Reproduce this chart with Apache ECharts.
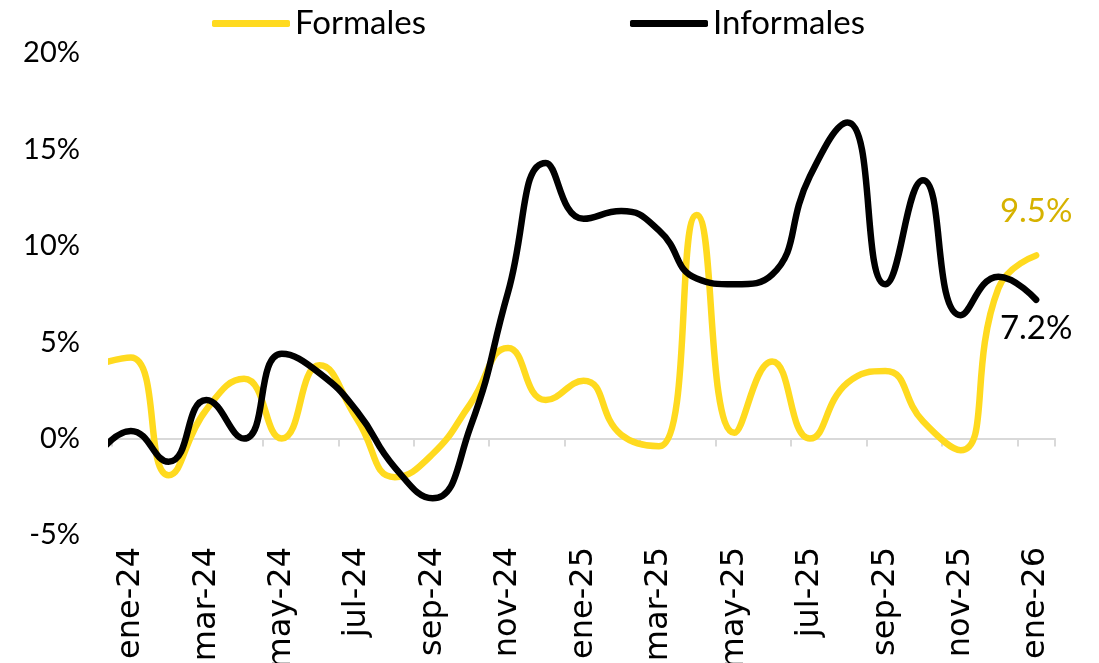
<!DOCTYPE html>
<html>
<head>
<meta charset="utf-8">
<script src="https://cdn.jsdelivr.net/npm/echarts@6/dist/echarts.min.js"></script>
<style>
  html, body { margin: 0; padding: 0; background: #fff; }
  #chart { width: 1099px; height: 663px; }
</style>
</head>
<body>
<div id="chart"></div>
<script>
// meses mostrados en el eje (ene-24 a ene-26)
var meses = ['ene-24', 'feb-24', 'mar-24', 'abr-24', 'may-24', 'jun-24', 'jul-24', 'ago-24', 'sep-24', 'oct-24', 'nov-24', 'dic-24',
	'ene-25', 'feb-25', 'mar-25', 'abr-25', 'may-25', 'jun-25', 'jul-25', 'ago-25', 'sep-25', 'oct-25', 'nov-25', 'dic-25', 'ene-26'];

// dic-23 queda fuera del área del gráfico (solo se ve el tramo que entra)
var previoFormales = 3.8;
var previoInformales = -1.2;

var formales = [4.2, -1.9, 1.5, 3.1, 0.0, 3.8, 1.0, -2.0, -0.8, 1.8, 4.7, 2.0,
	3.0, 0.2, -0.4, 11.6, 0.3, 4.0, 0.0, 2.9, 3.5, 0.9, -0.6, 7.8, 9.5];
var informales = [0.4, -1.2, 2.0, 0.0, 4.4, 3.4, 1.4, -1.5, -3.1, 0.6, 7.6, 14.3,
	11.4, 11.8, 10.8, 8.3, 8.0, 8.5, 13.6, 16.4, 8.0, 13.4, 6.4, 8.4, 7.2];

var yTicks = { min: -5, max: 20, interval: 5 };

var myChart = echarts.init(document.getElementById('chart'));

function puntos(previo, valores, etiqueta) {
	var data = [{ value: [-1, previo] }];
	for (var i = 0; i < valores.length; i++) {
		data.push({ value: [i, valores[i]] });
	}
	// etiqueta solo en el último dato
	data[data.length - 1].label = etiqueta;
	return data;
}

function etiqueta(p) {
	return p.value[1].toFixed(1) + '%';
}

var option = {
	animation: false,
	legend: {
		top: 2,
		left: 207,
		itemWidth: 78,
		itemHeight: 7,
		itemGap: 204,
		icon: 'roundRect',
		textStyle: { fontFamily: 'Lato', fontSize: 33, color: '#000' },
		data: ['Formales', 'Informales']
	},
	grid: { left: 112, right: 44, top: 53, bottom: 128, outerBoundsMode: 'none' },
	xAxis: [
		{
			// línea del cero con marcas cada dos meses
			type: 'category',
			data: meses,
			boundaryGap: true,
			axisLine: { onZero: true, lineStyle: { color: '#d9d9d9', width: 2 } },
			axisTick: { show: true, interval: 1, length: 8, lineStyle: { color: '#d9d9d9', width: 2 } },
			axisLabel: { show: false }
		},
		{
			type: 'value',
			min: -0.5,
			max: meses.length - 0.5,
			show: false
		},
		{
			// etiquetas abajo del área
			type: 'category',
			data: meses,
			boundaryGap: true,
			position: 'bottom',
			axisLine: { show: false, onZero: false },
			axisTick: { show: false },
			axisLabel: {
				interval: 1,
				rotate: 90,
				margin: 12,
				fontFamily: 'DejaVu Sans',
				fontSize: 32,
				color: '#000'
			}
		}
	],
	yAxis: {
		type: 'value',
		min: yTicks.min,
		max: yTicks.max,
		interval: yTicks.interval,
		axisLine: { show: false },
		axisTick: { show: false },
		splitLine: { show: false },
		axisLabel: {
			formatter: '{value}%',
			margin: 32,
			fontFamily: 'Lato',
			fontSize: 29,
			color: '#000'
		}
	},
	series: [
		{
			name: 'Formales',
			type: 'line',
			xAxisIndex: 1,
			smooth: 0.5,
			symbol: 'circle',
			symbolSize: 0,
			showSymbol: true,
			clip: true,
			color: '#FFDA1F',
			lineStyle: { width: 6.5, color: '#FFDA1F', cap: 'round', join: 'round' },
			data: puntos(previoFormales, formales, {
				show: true,
				position: 'top',
				distance: 28,
				formatter: etiqueta,
				fontFamily: 'Lato',
				fontSize: 33,
				color: '#D6B200'
			})
		},
		{
			name: 'Informales',
			type: 'line',
			xAxisIndex: 1,
			smooth: 0.5,
			symbol: 'circle',
			symbolSize: 0,
			showSymbol: true,
			clip: true,
			color: '#000000',
			lineStyle: { width: 6.5, color: '#000000', cap: 'round', join: 'round' },
			data: puntos(previoInformales, informales, {
				show: true,
				position: 'bottom',
				distance: 12,
				formatter: etiqueta,
				fontFamily: 'Lato',
				fontSize: 33,
				color: '#000'
			})
		}
	]
};
myChart.setOption(option);
</script>
</body>
</html>
